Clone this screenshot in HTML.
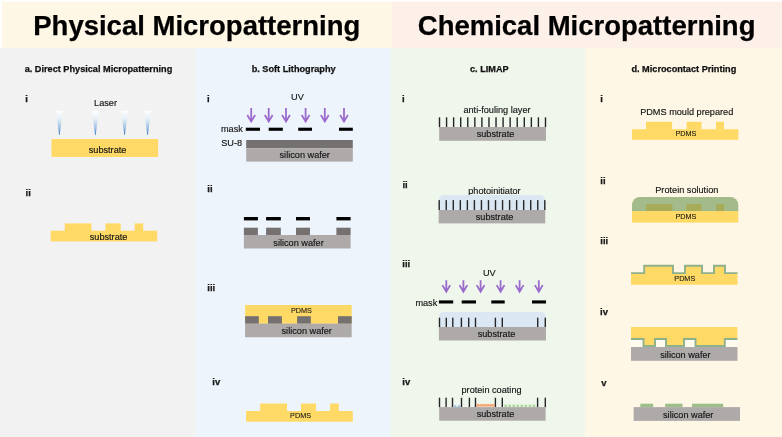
<!DOCTYPE html>
<html><head><meta charset="utf-8"><style>
html,body{margin:0;padding:0;background:#fff;}
svg{display:block;will-change:transform;font-family:"Liberation Sans",sans-serif;}
</style></head><body>
<svg width="782" height="437" viewBox="0 0 782 437">
<rect x="0.00" y="0.00" width="782.00" height="437.00" fill="#FFFFFF" />
<rect x="2.00" y="1.60" width="390.00" height="46.40" fill="#FFF7E6" />
<rect x="392.00" y="1.60" width="390.00" height="46.40" fill="#FCF0E8" />
<rect x="0.00" y="48.00" width="782.00" height="389.00" fill="#FFF7E6" />
<rect x="0.00" y="48.00" width="585.00" height="389.00" fill="#EFF6EC" />
<rect x="0.00" y="48.00" width="390.30" height="389.00" fill="#EEF4FB" />
<rect x="0.00" y="48.00" width="195.50" height="389.00" fill="#F2F2F2" />
<text x="33.26" y="35.00" font-size="27.5" font-weight="bold" fill="#000" stroke="#000" stroke-width="0.25">Physical Micropatterning</text>
<text x="417.77" y="35.00" font-size="27.5" font-weight="bold" fill="#000" stroke="#000" stroke-width="0.25">Chemical Micropatterning</text>
<text x="24.68" y="72.10" font-size="9.17" font-weight="bold" fill="#111" stroke="#111" stroke-width="0.25">a. Direct Physical Micropatterning</text>
<text x="251.70" y="72.10" font-size="9.17" font-weight="bold" fill="#111" stroke="#111" stroke-width="0.25">b. Soft Lithography</text>
<text x="469.97" y="72.10" font-size="9.17" font-weight="bold" fill="#111" stroke="#111" stroke-width="0.25">c. LIMAP</text>
<text x="631.44" y="72.10" font-size="9.17" font-weight="bold" fill="#111" stroke="#111" stroke-width="0.25">d. Microcontact Printing</text>
<text x="25.24" y="101.70" font-size="9.5" font-weight="bold" fill="#1a1a1a" stroke="#1a1a1a" stroke-width="0.25">i</text>
<text x="25.54" y="196.00" font-size="9.5" font-weight="bold" fill="#1a1a1a" stroke="#1a1a1a" stroke-width="0.25">ii</text>
<text x="207.04" y="101.50" font-size="9.5" font-weight="bold" fill="#1a1a1a" stroke="#1a1a1a" stroke-width="0.25">i</text>
<text x="207.34" y="192.00" font-size="9.5" font-weight="bold" fill="#1a1a1a" stroke="#1a1a1a" stroke-width="0.25">ii</text>
<text x="207.34" y="291.00" font-size="9.5" font-weight="bold" fill="#1a1a1a" stroke="#1a1a1a" stroke-width="0.25">iii</text>
<text x="212.34" y="385.40" font-size="9.5" font-weight="bold" fill="#1a1a1a" stroke="#1a1a1a" stroke-width="0.25">iv</text>
<text x="402.04" y="101.50" font-size="9.5" font-weight="bold" fill="#1a1a1a" stroke="#1a1a1a" stroke-width="0.25">i</text>
<text x="402.44" y="188.20" font-size="9.5" font-weight="bold" fill="#1a1a1a" stroke="#1a1a1a" stroke-width="0.25">ii</text>
<text x="402.34" y="267.00" font-size="9.5" font-weight="bold" fill="#1a1a1a" stroke="#1a1a1a" stroke-width="0.25">iii</text>
<text x="402.34" y="385.40" font-size="9.5" font-weight="bold" fill="#1a1a1a" stroke="#1a1a1a" stroke-width="0.25">iv</text>
<text x="600.24" y="101.50" font-size="9.5" font-weight="bold" fill="#1a1a1a" stroke="#1a1a1a" stroke-width="0.25">i</text>
<text x="600.34" y="184.20" font-size="9.5" font-weight="bold" fill="#1a1a1a" stroke="#1a1a1a" stroke-width="0.25">ii</text>
<text x="600.34" y="243.70" font-size="9.5" font-weight="bold" fill="#1a1a1a" stroke="#1a1a1a" stroke-width="0.25">iii</text>
<text x="600.04" y="314.60" font-size="9.5" font-weight="bold" fill="#1a1a1a" stroke="#1a1a1a" stroke-width="0.25">iv</text>
<text x="601.16" y="385.80" font-size="9.5" font-weight="bold" fill="#1a1a1a" stroke="#1a1a1a" stroke-width="0.25">v</text>
<text x="94.05" y="105.70" font-size="9.17" fill="#141414" stroke="#141414" stroke-width="0.15">Laser</text>
<defs><linearGradient id="lz" x1="0" y1="0" x2="0" y2="1"><stop offset="0" stop-color="#FFFFFF"/><stop offset="0.35" stop-color="#E4EEF8"/><stop offset="0.7" stop-color="#9EC0E4"/><stop offset="1" stop-color="#3A78BD"/></linearGradient></defs>
<path d="M55.90 110.8H62.90L59.70 135H59.10Z" fill="url(#lz)"/>
<path d="M91.90 110.8H98.90L95.70 135H95.10Z" fill="url(#lz)"/>
<path d="M121.10 110.8H128.10L124.90 135H124.30Z" fill="url(#lz)"/>
<path d="M144.10 110.8H151.10L147.90 135H147.30Z" fill="url(#lz)"/>
<rect x="51.50" y="139.00" width="106.60" height="18.00" fill="#FFD966" />
<text x="88.74" y="152.60" font-size="9.17" fill="#141414" stroke="#141414" stroke-width="0.15">substrate</text>
<rect x="50.70" y="230.70" width="106.50" height="10.70" fill="#FFD966" />
<rect x="64.70" y="223.40" width="26.70" height="7.80" fill="#FFD966" />
<rect x="105.40" y="223.40" width="15.30" height="7.80" fill="#FFD966" />
<rect x="134.70" y="223.40" width="8.50" height="7.80" fill="#FFD966" />
<text x="89.74" y="239.50" font-size="9.17" fill="#141414" stroke="#141414" stroke-width="0.15">substrate</text>
<text x="291.09" y="99.60" font-size="9.17" fill="#141414" stroke="#141414" stroke-width="0.15">UV</text>
<path d="M251.20 107.90V121.60M247.30 115.00L251.20 121.60L255.10 115.00" stroke="#9A6BCD" stroke-width="1.8" fill="none" stroke-linejoin="miter"/>
<path d="M268.70 107.90V121.60M264.80 115.00L268.70 121.60L272.60 115.00" stroke="#9A6BCD" stroke-width="1.8" fill="none" stroke-linejoin="miter"/>
<path d="M286.00 107.90V121.60M282.10 115.00L286.00 121.60L289.90 115.00" stroke="#9A6BCD" stroke-width="1.8" fill="none" stroke-linejoin="miter"/>
<path d="M305.60 107.90V121.60M301.70 115.00L305.60 121.60L309.50 115.00" stroke="#9A6BCD" stroke-width="1.8" fill="none" stroke-linejoin="miter"/>
<path d="M324.80 107.90V121.60M320.90 115.00L324.80 121.60L328.70 115.00" stroke="#9A6BCD" stroke-width="1.8" fill="none" stroke-linejoin="miter"/>
<path d="M344.00 107.90V121.60M340.10 115.00L344.00 121.60L347.90 115.00" stroke="#9A6BCD" stroke-width="1.8" fill="none" stroke-linejoin="miter"/>
<text x="220.99" y="131.70" font-size="9.17" fill="#141414" stroke="#141414" stroke-width="0.15">mask</text>
<rect x="245.80" y="127.70" width="14.20" height="3.10" fill="#000" />
<rect x="268.70" y="127.70" width="14.10" height="3.10" fill="#000" />
<rect x="298.20" y="127.70" width="13.80" height="3.10" fill="#000" />
<rect x="339.00" y="127.70" width="13.80" height="3.10" fill="#000" />
<text x="221.18" y="146.40" font-size="9.17" fill="#141414" stroke="#141414" stroke-width="0.15">SU-8</text>
<rect x="246.20" y="140.00" width="106.60" height="8.20" fill="#767171" />
<rect x="246.20" y="148.20" width="106.60" height="13.40" fill="#AEAAAA" />
<text x="279.54" y="158.40" font-size="9.17" fill="#141414" stroke="#141414" stroke-width="0.15">silicon wafer</text>
<rect x="243.90" y="217.00" width="14.00" height="3.40" fill="#000" />
<rect x="243.90" y="227.70" width="14.00" height="7.50" fill="#767171" />
<rect x="266.10" y="217.00" width="14.70" height="3.40" fill="#000" />
<rect x="266.10" y="227.70" width="14.70" height="7.50" fill="#767171" />
<rect x="296.00" y="217.00" width="14.00" height="3.40" fill="#000" />
<rect x="296.00" y="227.70" width="14.00" height="7.50" fill="#767171" />
<rect x="336.40" y="217.00" width="14.20" height="3.40" fill="#000" />
<rect x="336.40" y="227.70" width="14.20" height="7.50" fill="#767171" />
<rect x="243.90" y="235.00" width="106.70" height="13.50" fill="#AEAAAA" />
<text x="273.34" y="245.60" font-size="9.17" fill="#141414" stroke="#141414" stroke-width="0.15">silicon wafer</text>
<rect x="245.10" y="305.00" width="106.60" height="18.80" fill="#FFD966" />
<rect x="245.10" y="316.20" width="13.70" height="7.60" fill="#767171" />
<rect x="268.00" y="316.20" width="13.90" height="7.60" fill="#767171" />
<rect x="297.10" y="316.20" width="13.70" height="7.60" fill="#767171" />
<rect x="338.00" y="316.20" width="13.70" height="7.60" fill="#767171" />
<rect x="245.10" y="323.60" width="106.60" height="13.70" fill="#AEAAAA" />
<text x="290.91" y="313.00" font-size="7.25" fill="#141414" stroke="#141414" stroke-width="0.08">PDMS</text>
<text x="281.54" y="334.40" font-size="9.17" fill="#141414" stroke="#141414" stroke-width="0.15">silicon wafer</text>
<rect x="246.00" y="411.00" width="106.80" height="10.70" fill="#FFD966" />
<rect x="260.20" y="403.50" width="26.80" height="8.00" fill="#FFD966" />
<rect x="301.00" y="403.50" width="15.00" height="8.00" fill="#FFD966" />
<rect x="330.10" y="403.50" width="8.70" height="8.00" fill="#FFD966" />
<text x="290.11" y="417.80" font-size="7.25" fill="#141414" stroke="#141414" stroke-width="0.08">PDMS</text>
<text x="463.41" y="112.70" font-size="9.17" fill="#141414" stroke="#141414" stroke-width="0.15">anti-fouling layer</text>
<rect x="438.80" y="117.30" width="1.40" height="9.90" fill="#262626" />
<rect x="445.87" y="117.30" width="1.40" height="9.90" fill="#262626" />
<rect x="452.93" y="117.30" width="1.40" height="9.90" fill="#262626" />
<rect x="460.00" y="117.30" width="1.40" height="9.90" fill="#262626" />
<rect x="467.06" y="117.30" width="1.40" height="9.90" fill="#262626" />
<rect x="474.13" y="117.30" width="1.40" height="9.90" fill="#262626" />
<rect x="481.20" y="117.30" width="1.40" height="9.90" fill="#262626" />
<rect x="488.26" y="117.30" width="1.40" height="9.90" fill="#262626" />
<rect x="495.33" y="117.30" width="1.40" height="9.90" fill="#262626" />
<rect x="502.39" y="117.30" width="1.40" height="9.90" fill="#262626" />
<rect x="509.46" y="117.30" width="1.40" height="9.90" fill="#262626" />
<rect x="516.53" y="117.30" width="1.40" height="9.90" fill="#262626" />
<rect x="523.59" y="117.30" width="1.40" height="9.90" fill="#262626" />
<rect x="530.66" y="117.30" width="1.40" height="9.90" fill="#262626" />
<rect x="537.72" y="117.30" width="1.40" height="9.90" fill="#262626" />
<rect x="544.79" y="117.30" width="1.40" height="9.90" fill="#262626" />
<rect x="439.20" y="127.00" width="106.80" height="13.80" fill="#AEAAAA" />
<text x="476.64" y="137.30" font-size="9.17" fill="#141414" stroke="#141414" stroke-width="0.15">substrate</text>
<text x="468.21" y="193.60" font-size="9.17" fill="#141414" stroke="#141414" stroke-width="0.15">photoinitiator</text>
<path d="M438.7 210V200A5 5 0 0 1 443.7 194.9H540.2A5 5 0 0 1 545.2 200V210Z" fill="#DCE7F4"/>
<rect x="438.50" y="200.10" width="1.40" height="10.10" fill="#262626" />
<rect x="445.54" y="200.10" width="1.40" height="10.10" fill="#262626" />
<rect x="452.58" y="200.10" width="1.40" height="10.10" fill="#262626" />
<rect x="459.62" y="200.10" width="1.40" height="10.10" fill="#262626" />
<rect x="466.66" y="200.10" width="1.40" height="10.10" fill="#262626" />
<rect x="473.70" y="200.10" width="1.40" height="10.10" fill="#262626" />
<rect x="480.74" y="200.10" width="1.40" height="10.10" fill="#262626" />
<rect x="487.78" y="200.10" width="1.40" height="10.10" fill="#262626" />
<rect x="494.82" y="200.10" width="1.40" height="10.10" fill="#262626" />
<rect x="501.86" y="200.10" width="1.40" height="10.10" fill="#262626" />
<rect x="508.90" y="200.10" width="1.40" height="10.10" fill="#262626" />
<rect x="515.94" y="200.10" width="1.40" height="10.10" fill="#262626" />
<rect x="522.98" y="200.10" width="1.40" height="10.10" fill="#262626" />
<rect x="530.02" y="200.10" width="1.40" height="10.10" fill="#262626" />
<rect x="537.06" y="200.10" width="1.40" height="10.10" fill="#262626" />
<rect x="544.10" y="200.10" width="1.40" height="10.10" fill="#262626" />
<rect x="438.70" y="210.00" width="106.50" height="13.40" fill="#AEAAAA" />
<text x="475.74" y="220.20" font-size="9.17" fill="#141414" stroke="#141414" stroke-width="0.15">substrate</text>
<text x="482.99" y="276.00" font-size="9.17" fill="#141414" stroke="#141414" stroke-width="0.15">UV</text>
<path d="M446.30 280.30V291.70M442.40 285.10L446.30 291.70L450.20 285.10" stroke="#9A6BCD" stroke-width="1.8" fill="none" stroke-linejoin="miter"/>
<path d="M463.40 280.30V291.70M459.50 285.10L463.40 291.70L467.30 285.10" stroke="#9A6BCD" stroke-width="1.8" fill="none" stroke-linejoin="miter"/>
<path d="M480.60 280.30V291.70M476.70 285.10L480.60 291.70L484.50 285.10" stroke="#9A6BCD" stroke-width="1.8" fill="none" stroke-linejoin="miter"/>
<path d="M500.60 280.30V291.70M496.70 285.10L500.60 291.70L504.50 285.10" stroke="#9A6BCD" stroke-width="1.8" fill="none" stroke-linejoin="miter"/>
<path d="M519.60 280.30V291.70M515.70 285.10L519.60 291.70L523.50 285.10" stroke="#9A6BCD" stroke-width="1.8" fill="none" stroke-linejoin="miter"/>
<path d="M538.80 280.30V291.70M534.90 285.10L538.80 291.70L542.70 285.10" stroke="#9A6BCD" stroke-width="1.8" fill="none" stroke-linejoin="miter"/>
<text x="415.39" y="305.50" font-size="9.17" fill="#141414" stroke="#141414" stroke-width="0.15">mask</text>
<rect x="438.90" y="300.40" width="14.30" height="3.10" fill="#000" />
<rect x="461.70" y="300.40" width="14.30" height="3.10" fill="#000" />
<rect x="491.30" y="300.40" width="13.40" height="3.10" fill="#000" />
<rect x="532.00" y="300.40" width="14.00" height="3.10" fill="#000" />
<path d="M438.9 327V317A5 5 0 0 1 443.9 312H541A5 5 0 0 1 546 317V327Z" fill="#DCE7F4"/>
<rect x="438.80" y="317.70" width="1.40" height="9.50" fill="#262626" />
<rect x="445.60" y="317.70" width="1.40" height="9.50" fill="#262626" />
<rect x="452.10" y="317.70" width="1.40" height="9.50" fill="#262626" />
<rect x="460.70" y="317.70" width="1.40" height="9.50" fill="#262626" />
<rect x="468.00" y="317.70" width="1.40" height="9.50" fill="#262626" />
<rect x="474.80" y="317.70" width="1.40" height="9.50" fill="#262626" />
<rect x="494.70" y="317.70" width="1.40" height="9.50" fill="#262626" />
<rect x="501.60" y="317.70" width="1.40" height="9.50" fill="#262626" />
<rect x="537.00" y="317.70" width="1.40" height="9.50" fill="#262626" />
<rect x="544.60" y="317.70" width="1.40" height="9.50" fill="#262626" />
<rect x="438.90" y="327.00" width="107.10" height="13.50" fill="#AEAAAA" />
<text x="477.64" y="337.40" font-size="9.17" fill="#141414" stroke="#141414" stroke-width="0.15">substrate</text>
<text x="461.51" y="393.40" font-size="9.17" fill="#141414" stroke="#141414" stroke-width="0.15">protein coating</text>
<rect x="438.80" y="397.70" width="1.40" height="9.50" fill="#262626" />
<rect x="445.40" y="397.70" width="1.40" height="9.50" fill="#262626" />
<rect x="451.80" y="397.70" width="1.40" height="9.50" fill="#262626" />
<rect x="460.80" y="397.70" width="1.40" height="9.50" fill="#262626" />
<rect x="468.70" y="397.70" width="1.40" height="9.50" fill="#262626" />
<rect x="474.80" y="397.70" width="1.40" height="9.50" fill="#262626" />
<rect x="494.70" y="397.70" width="1.40" height="9.50" fill="#262626" />
<rect x="501.60" y="397.70" width="1.40" height="9.50" fill="#262626" />
<rect x="536.90" y="397.70" width="1.40" height="9.50" fill="#262626" />
<rect x="544.60" y="397.70" width="1.40" height="9.50" fill="#262626" />
<circle cx="455.1" cy="406.3" r="1.3" fill="#A3C6EE"/>
<circle cx="459" cy="406.3" r="1.3" fill="#A3C6EE"/>
<circle cx="477.90" cy="405.3" r="1.55" fill="#F5A673"/>
<circle cx="480.45" cy="405.3" r="1.55" fill="#F5A673"/>
<circle cx="483.00" cy="405.3" r="1.55" fill="#F5A673"/>
<circle cx="485.55" cy="405.3" r="1.55" fill="#F5A673"/>
<circle cx="488.10" cy="405.3" r="1.55" fill="#F5A673"/>
<circle cx="490.65" cy="405.3" r="1.55" fill="#F5A673"/>
<circle cx="493.20" cy="405.3" r="1.55" fill="#F5A673"/>
<circle cx="505.70" cy="405.8" r="1.4" fill="#A9D68C"/>
<circle cx="509.73" cy="405.8" r="1.4" fill="#A9D68C"/>
<circle cx="513.76" cy="405.8" r="1.4" fill="#A9D68C"/>
<circle cx="517.79" cy="405.8" r="1.4" fill="#A9D68C"/>
<circle cx="521.82" cy="405.8" r="1.4" fill="#A9D68C"/>
<circle cx="525.85" cy="405.8" r="1.4" fill="#A9D68C"/>
<circle cx="529.88" cy="405.8" r="1.4" fill="#A9D68C"/>
<circle cx="533.91" cy="405.8" r="1.4" fill="#A9D68C"/>
<rect x="439.20" y="407.10" width="106.40" height="13.60" fill="#AEAAAA" />
<text x="476.64" y="417.40" font-size="9.17" fill="#141414" stroke="#141414" stroke-width="0.15">substrate</text>
<text x="640.15" y="114.60" font-size="9.17" fill="#141414" stroke="#141414" stroke-width="0.15">PDMS mould prepared</text>
<rect x="632.00" y="129.20" width="106.40" height="10.60" fill="#FFD966" />
<rect x="646.00" y="121.80" width="26.10" height="7.90" fill="#FFD966" />
<rect x="686.60" y="121.80" width="14.90" height="7.90" fill="#FFD966" />
<rect x="716.00" y="121.80" width="8.00" height="7.90" fill="#FFD966" />
<text x="675.41" y="136.00" font-size="7.25" fill="#141414" stroke="#141414" stroke-width="0.08">PDMS</text>
<text x="655.25" y="192.60" font-size="9.17" fill="#141414" stroke="#141414" stroke-width="0.15">Protein solution</text>
<path d="M632 211.5V204.9A8 8 0 0 1 640 196.9H730.3A8 8 0 0 1 738.3 204.9V211.5Z" fill="#A3BA8A"/>
<rect x="646.10" y="204.00" width="26.30" height="7.20" fill="#A8AC58" />
<rect x="686.40" y="204.00" width="15.00" height="7.20" fill="#A8AC58" />
<rect x="716.30" y="204.00" width="8.00" height="7.20" fill="#A8AC58" />
<rect x="632.00" y="211.10" width="106.30" height="11.50" fill="#FFD966" />
<text x="675.41" y="218.70" font-size="7.25" fill="#141414" stroke="#141414" stroke-width="0.08">PDMS</text>
<path d="M631 273.1H644.2V265.8H673V273.1H685V265.8H702V273.1H714V265.8H725V273.1H737.5V284.8H631Z" fill="#FFD966"/>
<path d="M631 273.1H644.2V265.8H673V273.1H685V265.8H702V273.1H714V265.8H725V273.1H737.5" fill="none" stroke="#8FB08C" stroke-width="1.9"/>
<text x="674.31" y="280.90" font-size="7.25" fill="#141414" stroke="#141414" stroke-width="0.08">PDMS</text>
<path d="M631 327H737.4V339H724.8V346H695.5V339H684V346H666V339H655V346H643.5V339H631Z" fill="#FFD966"/>
<rect x="631.00" y="339.90" width="12.50" height="7.10" fill="#FFFBEF" />
<rect x="655.00" y="339.90" width="11.00" height="7.10" fill="#FFFBEF" />
<rect x="684.00" y="339.90" width="11.50" height="7.10" fill="#FFFBEF" />
<rect x="724.80" y="339.90" width="12.60" height="7.10" fill="#FFFBEF" />
<path d="M631 339H643.5V346H655V339H666V346H684V339H695.5V346H724.8V339H737.4" fill="none" stroke="#8FB08C" stroke-width="1.9"/>
<rect x="631.00" y="347.00" width="106.50" height="13.80" fill="#AEAAAA" />
<text x="660.24" y="357.50" font-size="9.17" fill="#141414" stroke="#141414" stroke-width="0.15">silicon wafer</text>
<rect x="640.30" y="403.70" width="12.90" height="3.50" fill="#9DC08A" />
<rect x="665.10" y="403.70" width="17.40" height="3.50" fill="#9DC08A" />
<rect x="692.00" y="403.70" width="31.20" height="3.50" fill="#9DC08A" />
<rect x="633.60" y="407.10" width="106.40" height="13.80" fill="#AEAAAA" />
<text x="663.04" y="417.50" font-size="9.17" fill="#141414" stroke="#141414" stroke-width="0.15">silicon wafer</text>
</svg>
</body></html>
